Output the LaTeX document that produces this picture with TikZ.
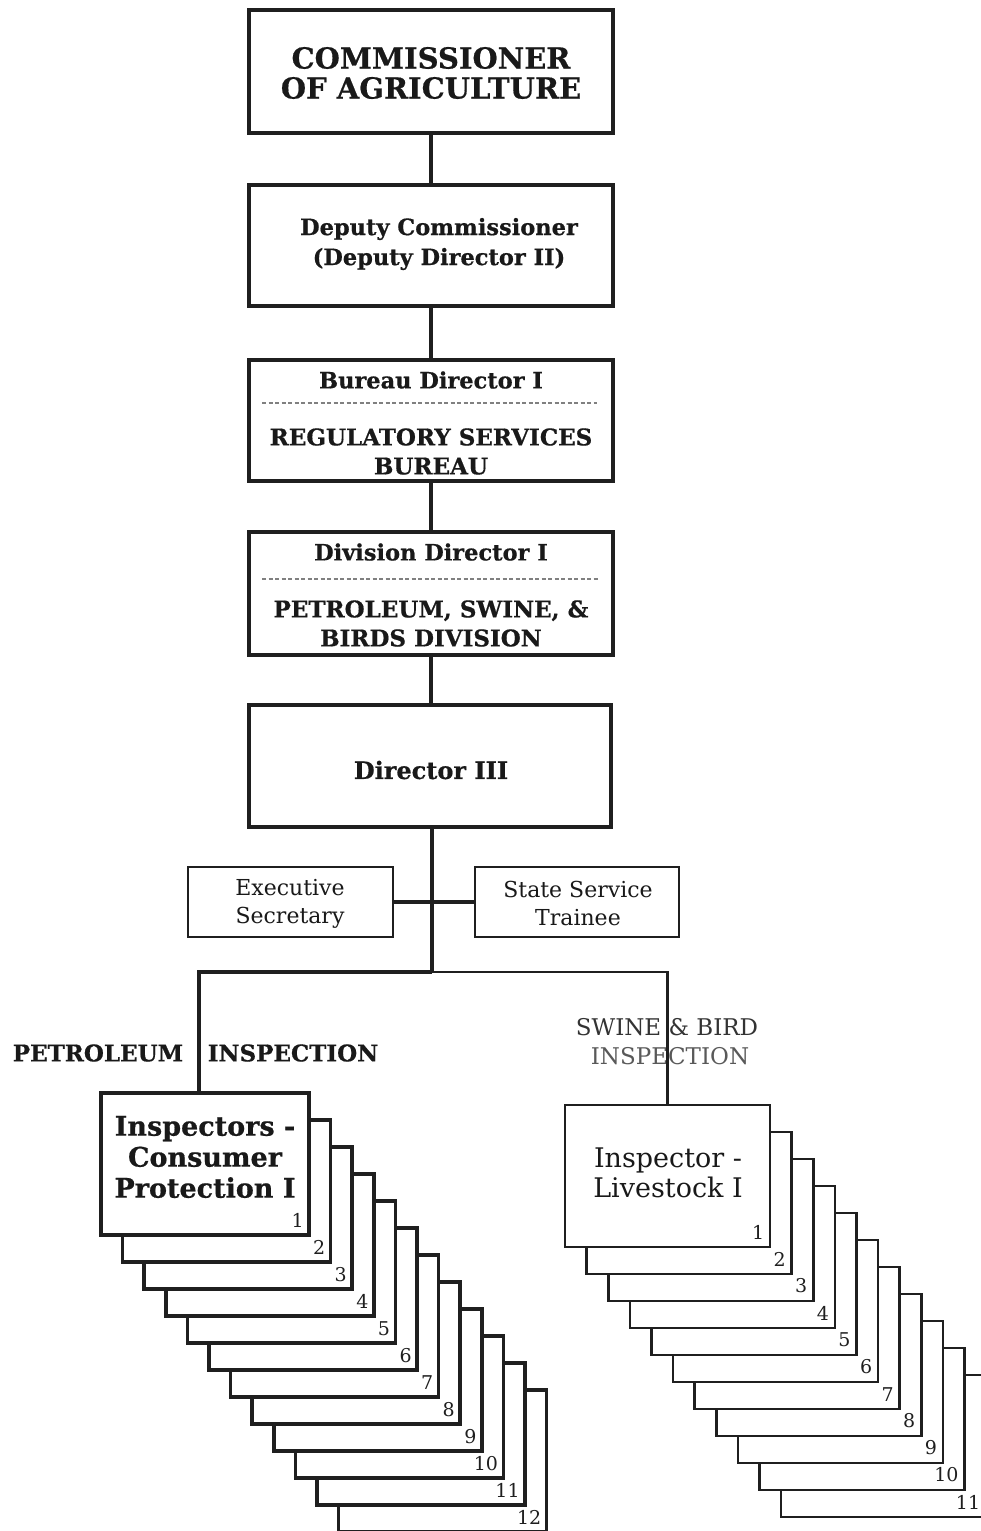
\documentclass[tikz,border=0pt]{standalone}
\usepackage{fontspec}
\setmainfont{DejaVu Serif}[BoldFeatures={FakeBold=0.6}]
\begin{document}
\begin{tikzpicture}[x=1pt,y=-1pt,
  mainbox/.style={draw=black!88,line width=4.2pt,fill=white,inner sep=0pt},
  smallbox/.style={draw=black!88,line width=2.5pt,fill=white,inner sep=0pt},
  lstack/.style={draw=black!88,line width=3.6pt,fill=white,inner sep=0pt,minimum width=208pt,minimum height=142pt},
  rstack/.style={draw=black!88,line width=2.6pt,fill=white,inner sep=0pt,minimum width=205pt,minimum height=142pt},
  txt/.style={inner sep=0pt,align=center,text=black!90},
  num/.style={inner sep=0pt,anchor=south east,font=\fontsize{19}{19}\selectfont,text=black!88},
  conn/.style={draw=black!88,line width=3.6pt},
  thinconn/.style={draw=black!88,line width=2.5pt},
  divider/.style={draw=black!50,line width=1.6pt,dash pattern=on 4pt off 2.5pt}
]
\useasboundingbox (0,0) rectangle (981,1531);
\fill[white] (0,0) rectangle (981,1531);

% main chain
\node[mainbox,minimum width=364pt,minimum height=123pt] (comm) at (431,71.5) {};
\node[mainbox,minimum width=364pt,minimum height=121pt] (dep) at (431,245.5) {};
\node[mainbox,minimum width=364pt,minimum height=121pt] (bur) at (431,420.5) {};
\node[mainbox,minimum width=364pt,minimum height=123pt] (div) at (431,593.5) {};
\node[mainbox,minimum width=362pt,minimum height=122pt] (dir) at (430,766) {};

\node[txt,font=\bfseries\fontsize{29}{30}\selectfont] (commt) at (431,73) {COMMISSIONER\\OF AGRICULTURE};
\node[txt,font=\bfseries\fontsize{22.5}{30}\selectfont] (dept) at (439,244) {Deputy Commissioner\\(Deputy Director II)};
\node[txt,font=\bfseries\fontsize{22.5}{29}\selectfont] (burt1) at (431,380) {Bureau Director I};
\node[txt,font=\bfseries\fontsize{23}{29}\selectfont] (burt2) at (431,451.5) {REGULATORY SERVICES\\BUREAU};
\node[txt,font=\bfseries\fontsize{22.5}{29}\selectfont] (divt1) at (431,552) {Division Director I};
\node[txt,font=\bfseries\fontsize{23}{29}\selectfont] (divt2) at (431,623.5) {PETROLEUM, SWINE, \&\\BIRDS DIVISION};
\node[txt,font=\bfseries\fontsize{24}{29}\selectfont] (dirt) at (431,770) {Director III};

\coordinate (burdl) at (262,403); \coordinate (burdr) at (597,403);
\coordinate (divdl) at (262,579); \coordinate (divdr) at (598,579);
\draw[divider] (burdl) -- (burdr);
\draw[divider] (divdl) -- (divdr);

% staff boxes
\node[smallbox,minimum width=205pt,minimum height=70pt] (exec) at (290.5,902) {};
\node[smallbox,minimum width=204pt,minimum height=70pt] (sst) at (577,902) {};
\node[txt,font=\fontsize{22}{28}\selectfont] (exect) at (290,904) {Executive\\Secretary};
\node[txt,font=\fontsize{22}{28}\selectfont] (sstt) at (578,903.5) {State Service\\Trainee};

% stacks (back to front)
\foreach \i in {11,10,...,0} {
  \pgfmathtruncatemacro{\n}{\i+1}
  \node[lstack] (L\n) at ({205+21.6*\i},{1164+27*\i}) {};
  \node[num] (Ln\n) at ([xshift=-7pt,yshift=9pt]L\n.south east) {\n};
}
\foreach \i in {10,9,...,0} {
  \pgfmathtruncatemacro{\n}{\i+1}
  \node[rstack] (R\n) at ({667.5+21.6*\i},{1176+27*\i}) {};
  \node[num] (Rn\n) at ([xshift=-7pt,yshift=9pt]R\n.south east) {\n};
}
\node[txt,font=\bfseries\fontsize{27}{31}\selectfont] (L1t) at (205,1157) {Inspectors -\\Consumer\\Protection I};
\node[txt,font=\fontsize{27}{30}\selectfont] (R1t) at (668,1173) {Inspector -\\Livestock I};

% branch labels
\node[txt,font=\bfseries\fontsize{23}{29}\selectfont] (petl) at (98,1053) {PETROLEUM};
\node[txt,font=\bfseries\fontsize{23}{29}\selectfont] (petr) at (293,1053) {INSPECTION};
\node[txt,font=\fontsize{23}{29}\selectfont,text=black!80] (swl1) at (667,1027) {SWINE \& BIRD};
\node[txt,font=\fontsize{23}{29}\selectfont,text=black!65] (swl2) at (670,1056) {INSPECTION};

% connectors
\draw[conn] (comm.south) -- (dep.north);
\draw[conn] (dep.south) -- (bur.north);
\draw[conn] (bur.south) -- (div.north);
\draw[conn] (div.south) -- (div.south |- dir.north);
\coordinate (junc) at (432,972);
\coordinate (ljunc) at (199,972);
\draw[conn] (dir.south -| junc) -- (junc);
\draw[conn] (exec.east) -- (sst.west);
\draw[conn] (junc) -- (ljunc) -- (ljunc |- L1.north);
\draw[thinconn] (junc) -| (R1.north);
\end{tikzpicture}
\end{document}
